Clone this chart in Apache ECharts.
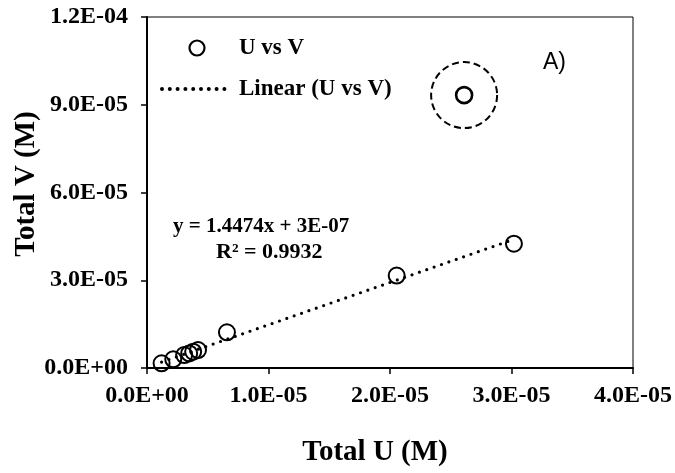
<!DOCTYPE html>
<html>
<head>
<meta charset="utf-8">
<script src="https://cdn.jsdelivr.net/npm/echarts@6/dist/echarts.min.js"></script>
<style>
  html, body { margin: 0; padding: 0; background: #fff; }
  #chart { width: 675px; height: 473px; }
</style>
</head>
<body>
<div id="chart"></div>
<script>
// Measured totals (mol/L)
const totalU = [1.2e-6, 2.16e-6, 3.06e-6, 3.47e-6, 3.8e-6, 4.2e-6, 6.58e-6, 2.055e-5, 3.02e-5];
const totalV = [1.6e-6, 2.97e-6, 4.44e-6, 5.0e-6, 5.57e-6, 6.15e-6, 1.22e-5, 3.16e-5, 4.25e-5];

// Point left out of the fit (ringed)
const outlierU = [2.61e-5];
const outlierV = [9.33e-5];

// Linear fit reported on the chart
const fitSlope = 1.4474;
const fitIntercept = 3e-7;
const fitLabel = 'y = 1.4474x + 3E-07';
const r2Label = 'R\u00b2 = 0.9932';

const xTickLabels = ['0.0E+00', '1.0E-05', '2.0E-05', '3.0E-05', '4.0E-05'];
const yTickLabels = ['0.0E+00', '3.0E-05', '6.0E-05', '9.0E-05', '1.2E-04'];

const SERIF = '"Liberation Serif", "Times New Roman", serif';

const points = totalU.map((u, i) => [u, totalV[i]]);
const outlier = outlierU.map((u, i) => [u, outlierV[i]]);
const uMin = Math.min(...totalU), uMax = Math.max(...totalU);
const fitLine = [uMin, uMax].map(u => [u, fitSlope * u + fitIntercept]);

const chart = echarts.init(document.getElementById('chart'), null, { renderer: 'canvas' });

const tickFont = { fontFamily: SERIF, fontWeight: 'bold', fontSize: 24, color: '#000' };
const dotted = { color: '#000', width: 3.2, type: [0, 7.8], cap: 'round' };

chart.setOption({
  animation: false,
  color: ['#000'],
  grid: {
    left: 147, right: 40, top: 17, bottom: 105,
    show: true, borderColor: '#000', borderWidth: 1, backgroundColor: 'transparent'
  },
  legend: {
    orient: 'vertical',
    left: 155, top: 30,
    itemWidth: 70, itemHeight: 15, itemGap: 15,
    selectedMode: false,
    lineStyle: { width: 4, type: [0, 7.8], cap: 'round' },
    textStyle: { fontFamily: SERIF, fontWeight: 'bold', fontSize: 23, color: '#000', lineHeight: 26, padding: [0, 0, 0, 2] },
    data: [
      { name: 'U vs V', icon: 'circle', itemStyle: { color: 'transparent', borderColor: '#000', borderWidth: 2.2 } },
      { name: 'Linear (U vs V)', itemStyle: { color: 'transparent', borderWidth: 0, opacity: 0 } }
    ]
  },
  xAxis: {
    type: 'value', min: 0, max: 4e-5, interval: 1e-5,
    axisLine: { onZero: false, lineStyle: { color: '#000', width: 2 } },
    axisTick: { show: true, inside: false, length: 6, lineStyle: { color: '#000', width: 1.5 } },
    splitLine: { show: false },
    axisLabel: Object.assign({ margin: 16, formatter: (v, i) => xTickLabels[i] }, tickFont)
  },
  yAxis: {
    type: 'value', min: 0, max: 1.2e-4, interval: 3e-5,
    axisLine: { onZero: false, lineStyle: { color: '#000', width: 2 } },
    axisTick: { show: true, inside: false, length: 6, lineStyle: { color: '#000', width: 1.5 } },
    splitLine: { show: false },
    axisLabel: Object.assign({ margin: 19, formatter: (v, i) => yTickLabels[i] }, tickFont)
  },
  series: [
    {
      name: 'Linear (U vs V)',
      type: 'line',
      data: fitLine,
      symbol: 'none',
      silent: true,
      z: 1,
      lineStyle: dotted
    },
    {
      name: 'U vs V',
      type: 'scatter',
      data: points,
      symbol: 'circle',
      symbolSize: 16,
      z: 2,
      itemStyle: { color: 'transparent', borderColor: '#000', borderWidth: 2, opacity: 1 }
    },
    {
      name: 'U vs V',
      type: 'scatter',
      data: outlier,
      symbol: 'circle',
      symbolSize: 16,
      z: 2,
      itemStyle: { color: 'transparent', borderColor: '#000', borderWidth: 2.6, opacity: 1 }
    },
    {
      name: 'ring',
      type: 'scatter',
      data: outlier,
      symbol: 'circle',
      symbolSize: 66,
      silent: true,
      z: 1,
      itemStyle: { color: 'transparent', borderColor: '#000', borderWidth: 2, borderType: [7, 4], opacity: 1 }
    }
  ],
  graphic: [
    { type: 'text', x: 173, y: 227, style: { text: fitLabel, font: 'bold 21px ' + SERIF, fill: '#000', textAlign: 'left', textVerticalAlign: 'middle' } },
    { type: 'text', x: 216, y: 252, style: { text: r2Label, font: 'bold 22px ' + SERIF, fill: '#000', textAlign: 'left', textVerticalAlign: 'middle' } },
    { type: 'text', x: 543, y: 63, style: { text: 'A)', font: '23px "Liberation Sans", Arial, sans-serif', fill: '#000', textAlign: 'left', textVerticalAlign: 'middle' } },
    { type: 'text', x: 375, y: 453, style: { text: 'Total U (M)', font: 'bold 29px ' + SERIF, fill: '#000', textAlign: 'center', textVerticalAlign: 'middle' } },
    { type: 'text', x: 27, y: 184, rotation: Math.PI / 2, style: { text: 'Total V (M)', font: 'bold 29px ' + SERIF, fill: '#000', textAlign: 'center', textVerticalAlign: 'middle' } }
  ]
});
</script>
</body>
</html>
